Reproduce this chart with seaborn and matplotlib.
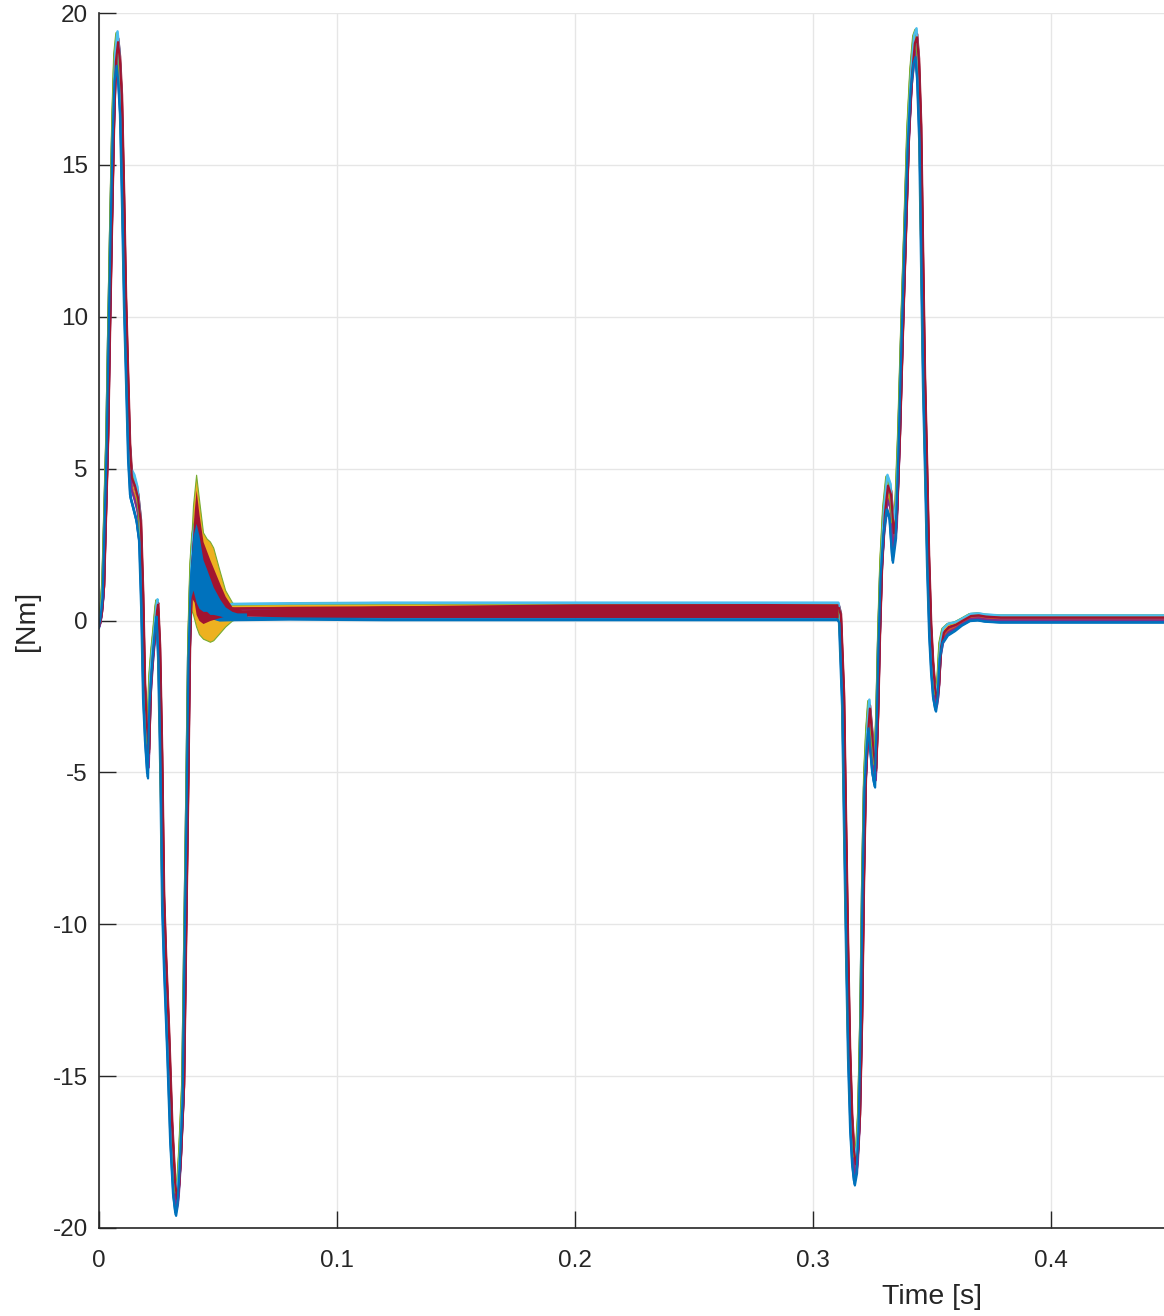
import numpy as np
import pandas as pd
import matplotlib
matplotlib.use("Agg")
import matplotlib.pyplot as plt
import seaborn as sns

# ---- data (time in ms, torque in Nm) ----
t_ms = [0, 0.8, 1.7, 2.5, 3.4, 4.2, 5.0, 5.9, 6.7, 7.6, 8.4, 9.2, 10.1, 10.9, 11.8,
        12.6, 13.4, 14.7, 16.0, 17.2, 18.1, 18.9, 19.7, 20.6, 21.4, 22.3, 23.1, 24.0,
        24.4, 25.2, 26.1, 26.9, 27.7, 29.0, 30.3, 31.5, 32.4, 33.2, 34.0, 35.3, 36.1,
        37.0, 37.8, 38.7, 39.5, 40.8, 42.0, 43.7, 46.6, 50.8, 55.9,
        80, 120, 160, 200, 240, 280, 310.5,
        311.3, 312.6, 313.4, 314.3, 315.1, 316.0, 316.8, 317.6, 318.5, 319.3, 320.2,
        321.0, 321.8, 322.7, 323.5, 324.4, 325.2, 326.1, 326.9, 327.7, 328.6, 329.8,
        331.1, 332.4, 333.6, 334.9, 336.1, 337.4, 338.7, 339.9, 341.2, 342.4, 343.3,
        344.1, 345.0, 345.8, 346.6, 347.5, 348.3, 349.2, 350.0, 350.8, 351.7, 352.5,
        353.4, 354.6, 356.7, 359.7, 362.6, 366.0, 369.3, 372.3, 378.6,
        450, 550, 700]

torque_mean = [-0.15, 0.2, 1.0, 3.3, 5.9, 9.5, 12.8, 16.2, 18.2, 18.8, 18.2, 17.0, 13.8, 10.5, 7.9,
               5.6, 4.5, 4.2, 3.8, 3.0, 0.7, -2.3, -3.6, -4.6, -2.3, -1.3, -0.6, 0.2,
               0.4, -1.0, -4.6, -9.2, -11.2, -13.8, -16.8, -18.6, -19.2, -18.8, -17.8, -15.5, -10.9,
               -5.9, -1.0, 1.5, 2.4, 2.8, 2.0, 1.0, 0.4, 0.25, 0.28,
               0.3, 0.3, 0.3, 0.3, 0.3, 0.3, 0.3,
               0.1, -2.6, -6.6, -10.9, -14.2, -16.5, -17.6, -18.1, -17.7, -16.5, -13.2,
               -8.6, -5.3, -3.9, -3.1, -3.9, -4.6, -5.1, -3.3, -0.6, 1.7, 3.3,
               4.2, 3.9, 2.6, 3.3, 5.9, 9.5, 12.8, 15.8, 17.8, 18.8, 19.0,
               18.2, 16.1, 11.9, 7.9, 4.9, 2.0, -0.3, -1.5, -2.3, -2.7, -2.3,
               -1.0, -0.5, -0.3, -0.2, -0.05, 0.1, 0.12, 0.08, 0.05,
               0.05, 0.05, 0.05]

# half width of the bundle of runs at each time
torque_spread = [0.1, 0.15, 0.3, 0.3, 0.3, 0.3, 0.3, 0.4, 0.5, 0.6, 0.6, 0.5, 0.4, 0.3, 0.3,
                 0.4, 0.5, 0.6, 0.6, 0.5, 0.4, 0.4, 0.5, 0.6, 0.5, 0.4, 0.3, 0.3,
                 0.3, 0.3, 0.3, 0.3, 0.4, 0.5, 0.5, 0.4, 0.4, 0.4, 0.4, 0.4, 0.3,
                 0.3, 0.3, 0.4, 0.5, 0.6, 0.5, 0.4, 0.3, 0.25, 0.27,
                 0.27, 0.29, 0.29, 0.29, 0.29, 0.29, 0.29,
                 0.2, 0.3, 0.3, 0.3, 0.3, 0.4, 0.4, 0.5, 0.5, 0.4, 0.3,
                 0.3, 0.3, 0.4, 0.5, 0.5, 0.5, 0.4, 0.3, 0.3, 0.3, 0.5,
                 0.6, 0.6, 0.7, 0.6, 0.4, 0.3, 0.3, 0.4, 0.4, 0.5, 0.5,
                 0.5, 0.4, 0.3, 0.3, 0.3, 0.3, 0.3, 0.3, 0.3, 0.3, 0.3,
                 0.3, 0.25, 0.2, 0.15, 0.12, 0.12, 0.12, 0.12, 0.12,
                 0.12, 0.12, 0.12]

# position of each run inside the bundle and its small time lag (ms)
run_pos = [-1.0, 0.1, 0.5, 0.3, 0.8, 1.0, 0.6, -0.7, -0.2, 0.7, -0.4, 0.9, 0.95, 0.4, -0.9]
run_lag_ms = [0.0, 0.3, -0.3, 0.4, -0.2, 0.2, 0.5, -0.4, 0.1, -0.1, 0.3, -0.3, 0.1, 0.4, -0.2]

# ripple envelopes (ms, Nm)
osc_t_ms = [38.0, 39.5, 40.8, 42.0, 43.7, 45.2, 46.6, 48.0, 50.8, 53.0, 55.9, 58.0, 62.0]
osc_outer_hi = [1.5, 3.8, 4.8, 4.0, 2.9, 2.7, 2.6, 2.4, 1.6, 1.0, 0.6, 0.45, 0.4]
osc_outer_lo = [0.5, 0.2, -0.2, -0.45, -0.6, -0.65, -0.7, -0.65, -0.4, -0.2, 0.0, 0.05, 0.1]
osc_inner_hi = [1.4, 2.8, 3.2, 2.8, 2.0, 1.7, 1.4, 1.1, 0.7, 0.45, 0.3, 0.25, 0.25]
osc_inner_lo = [0.6, 1.0, 0.6, 0.4, 0.3, 0.3, 0.2, 0.2, 0.15, 0.1, 0.05, 0.05, 0.05]

band_t_ms = [38.5, 40.0, 40.8, 42.0, 43.7, 46.6, 50.8, 53.0, 55.9, 60, 80, 120, 200, 280, 310.5]
band_hi = [1.8, 3.6, 4.3, 3.5, 2.6, 2.0, 1.2, 0.8, 0.45, 0.35, 0.4, 0.48, 0.55, 0.56, 0.55]
band_lo = [0.8, 0.6, 0.2, 0.0, -0.1, 0.0, 0.1, 0.15, 0.18, 0.15, 0.12, 0.1, 0.1, 0.1, 0.1]

# only the ticks that fall inside the visible (cropped) part
x_ticks = [0, 0.1, 0.2, 0.3, 0.4]
x_ticklabels = ["0", "0.1", "0.2", "0.3", "0.4"]
y_ticks = [-20, -15, -10, -5, 0, 5, 10, 15, 20]

matlab_colors = ['#0072BD', '#D95319', '#EDB120', '#7E2F8E', '#77AC30', '#4DBEEE', '#A2142F']

assert len(t_ms) == len(torque_mean) == len(torque_spread)

# build long table, one block per run
rows = []
t_arr = np.array(t_ms)
m_arr = np.array(torque_mean)
s_arr = np.array(torque_spread)
for i, (p, lag) in enumerate(zip(run_pos, run_lag_ms)):
    rows.append(pd.DataFrame({
        'time': (t_arr + lag) / 1000.0,
        'torque': m_arr + p * s_arr,
        'run': f'run{i:02d}',
    }))
df = pd.concat(rows, ignore_index=True)
run_names = [f'run{i:02d}' for i in range(len(run_pos))]
palette = [matlab_colors[i % 7] for i in range(len(run_pos))]

sns.set_style("white")
plt.rcParams['font.family'] = ['Liberation Sans', 'DejaVu Sans']
plt.rcParams['axes.unicode_minus'] = False

fig = plt.figure(figsize=(11.64, 13.16), dpi=100)
# the axes run past the right edge of the figure (cropped MATLAB plot, x up to 0.7 s)
ax = fig.add_axes([99 / 1164, 88 / 1316, 1666 / 1164, 1215 / 1316])

sns.lineplot(data=df, x='time', y='torque', hue='run', hue_order=run_names,
             palette=palette, estimator=None, sort=False, legend=False,
             linewidth=1.6, ax=ax)

osc_t = np.array(osc_t_ms) / 1000.0
band_t = np.array(band_t_ms) / 1000.0
ax.fill_between(osc_t, osc_outer_lo, osc_outer_hi, color='#EDB120',
                edgecolor='#77AC30', linewidth=0.8, zorder=1.8)
ax.fill_between(band_t, band_lo, band_hi, color='#A2142F', linewidth=0, zorder=2.5)
ax.fill_between(osc_t, osc_inner_lo, osc_inner_hi, color='#0072BD', linewidth=0, zorder=2.6)

ax.set_xlim(0, 0.7)
ax.set_ylim(-20, 20)
ax.set_xticks(x_ticks)
ax.set_xticklabels(x_ticklabels)
ax.set_yticks(y_ticks)
ax.set_yticklabels([str(v) for v in y_ticks])

ax.grid(True, color='#e6e6e6', linewidth=1.0)
ax.set_axisbelow(True)
for side in ['top', 'right']:
    ax.spines[side].set_visible(False)
for side in ['left', 'bottom']:
    ax.spines[side].set_color('#262626')
    ax.spines[side].set_linewidth(1.2)

ax.tick_params(axis='both', direction='in', length=12, width=1.0, color='#262626',
               labelcolor='#262626', labelsize=17.5, bottom=True, left=True,
               top=False, right=False)
ax.tick_params(axis='x', pad=16)
ax.tick_params(axis='y', pad=8)

ax.set_xlabel('Time [s]', fontsize=20.5, color='#262626')
ax.set_ylabel('[Nm]', fontsize=20.5, color='#262626')
ax.xaxis.set_label_coords(0.5, -0.046)
ax.yaxis.set_label_coords(-0.0354, 0.5)

fig.savefig('out.png', dpi=100)
